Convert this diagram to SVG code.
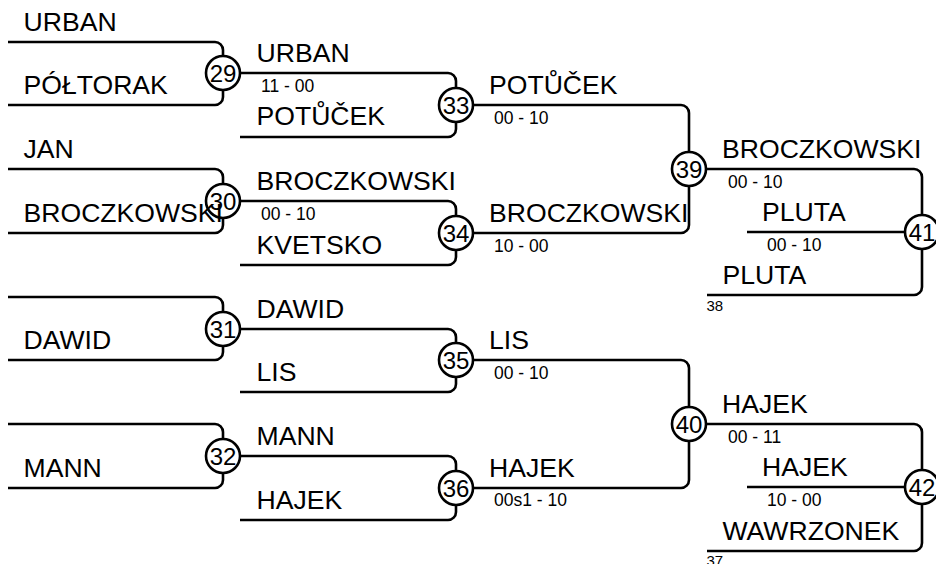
<svg xmlns="http://www.w3.org/2000/svg" width="936" height="564" viewBox="0 0 936 564">
<style>
.c{fill:none;stroke:#000;stroke-width:2.6}
.n circle{fill:#fff;stroke:#000;stroke-width:2.6}
.n text{font-family:"Liberation Sans",Arial,sans-serif;font-size:24px;text-anchor:middle;fill:#000}
.nm{font-family:"Liberation Sans",Arial,sans-serif;font-size:26.6px;fill:#000}
.sc{font-family:"Liberation Sans",Arial,sans-serif;font-size:17.5px;fill:#000}
.sm{font-family:"Liberation Sans",Arial,sans-serif;font-size:15px;fill:#000}
</style>
<rect width="936" height="564" fill="#fff"/>
<g id="connectors">
<path class="c" d="M8 42H215A8 8 0 0 1 223 50V56M8 105H215A8 8 0 0 0 223 97V90"/>
<path class="c" d="M8 169H215A8 8 0 0 1 223 177V184M8 233H215A8 8 0 0 0 223 225V218"/>
<path class="c" d="M8 297H215A8 8 0 0 1 223 305V312M8 360H215A8 8 0 0 0 223 352V346"/>
<path class="c" d="M8 424H215A8 8 0 0 1 223 432V439M8 488H215A8 8 0 0 0 223 480V473"/>
<path class="c" d="M240 73H448A8 8 0 0 1 456 81V88M240 137H448A8 8 0 0 0 456 129V122"/>
<path class="c" d="M240 201H448A8 8 0 0 1 456 209V216M240 265H448A8 8 0 0 0 456 257V250"/>
<path class="c" d="M240 329H448A8 8 0 0 1 456 337V343M240 392H448A8 8 0 0 0 456 384V377"/>
<path class="c" d="M240 456H448A8 8 0 0 1 456 464V471M240 520H448A8 8 0 0 0 456 512V505"/>
<path class="c" d="M473 105H681A8 8 0 0 1 689 113V152M473 233H681A8 8 0 0 0 689 225V186"/>
<path class="c" d="M473 360H681A8 8 0 0 1 689 368V407M473 488H681A8 8 0 0 0 689 480V441"/>
<path class="c" d="M706 169H914A8 8 0 0 1 922 177V215M747 232H905M707 295H914A8 8 0 0 0 922 287V249"/>
<path class="c" d="M706 424H914A8 8 0 0 1 922 432V470M747 487H905M707 551H914A8 8 0 0 0 922 543V504"/>
</g>
<g id="m29" class="n"><circle cx="223" cy="73" r="17"/><text x="223" y="81.5">29</text></g>
<g id="m30" class="n"><circle cx="223" cy="201" r="17"/><text x="223" y="209.5">30</text></g>
<g id="m31" class="n"><circle cx="223" cy="329" r="17"/><text x="223" y="337.5">31</text></g>
<g id="m32" class="n"><circle cx="223" cy="456" r="17"/><text x="223" y="464.5">32</text></g>
<g id="m33" class="n"><circle cx="456" cy="105" r="17"/><text x="456" y="113.5">33</text></g>
<g id="m34" class="n"><circle cx="456" cy="233" r="17"/><text x="456" y="241.5">34</text></g>
<g id="m35" class="n"><circle cx="456" cy="360" r="17"/><text x="456" y="368.5">35</text></g>
<g id="m36" class="n"><circle cx="456" cy="488" r="17"/><text x="456" y="496.5">36</text></g>
<g id="m39" class="n"><circle cx="689" cy="169" r="17"/><text x="689" y="177.5">39</text></g>
<g id="m40" class="n"><circle cx="689" cy="424" r="17"/><text x="689" y="432.5">40</text></g>
<g id="m41" class="n"><circle cx="922" cy="232" r="17"/><text x="922" y="240.5">41</text></g>
<g id="m42" class="n"><circle cx="922" cy="487" r="17"/><text x="922" y="495.5">42</text></g>
<g id="labels">
<text class="nm" x="23.5" y="31">URBAN</text>
<text class="nm" x="23.5" y="94">PÓŁTORAK</text>
<text class="nm" x="23.5" y="158">JAN</text>
<text class="nm" x="23.5" y="222">BROCZKOWSKI</text>
<text class="nm" x="23.5" y="349">DAWID</text>
<text class="nm" x="23.5" y="477">MANN</text>
<text class="nm" x="256.5" y="62">URBAN</text>
<text class="nm" x="256.5" y="125">POTŮČEK</text>
<text class="nm" x="256.5" y="190">BROCZKOWSKI</text>
<text class="nm" x="256.5" y="254">KVETSKO</text>
<text class="nm" x="256.5" y="318">DAWID</text>
<text class="nm" x="256.5" y="381">LIS</text>
<text class="nm" x="256.5" y="445">MANN</text>
<text class="nm" x="256.5" y="509">HAJEK</text>
<text class="sc" x="261" y="91.5">11 - 00</text>
<text class="sc" x="261" y="219.5">00 - 10</text>
<text class="nm" x="489" y="94">POTŮČEK</text>
<text class="nm" x="489" y="222">BROCZKOWSKI</text>
<text class="nm" x="489" y="349">LIS</text>
<text class="nm" x="489" y="477">HAJEK</text>
<text class="sc" x="494" y="123.5">00 - 10</text>
<text class="sc" x="494" y="251.5">10 - 00</text>
<text class="sc" x="494" y="378.5">00 - 10</text>
<text class="sc" x="494" y="506">00s1 - 10</text>
<text class="nm" x="722" y="158">BROCZKOWSKI</text>
<text class="sc" x="728" y="187.5">00 - 10</text>
<text class="nm" x="762" y="221">PLUTA</text>
<text class="sc" x="767" y="250.5">00 - 10</text>
<text class="nm" x="722.5" y="284">PLUTA</text>
<text class="sm" x="706.5" y="310.5">38</text>
<text class="nm" x="722" y="413">HAJEK</text>
<text class="sc" x="728" y="442.5">00 - 11</text>
<text class="nm" x="762" y="476">HAJEK</text>
<text class="sc" x="767" y="505.5">10 - 00</text>
<text class="nm" x="722.5" y="540">WAWRZONEK</text>
<text class="sm" x="706.5" y="566">37</text>
</g>
</svg>
